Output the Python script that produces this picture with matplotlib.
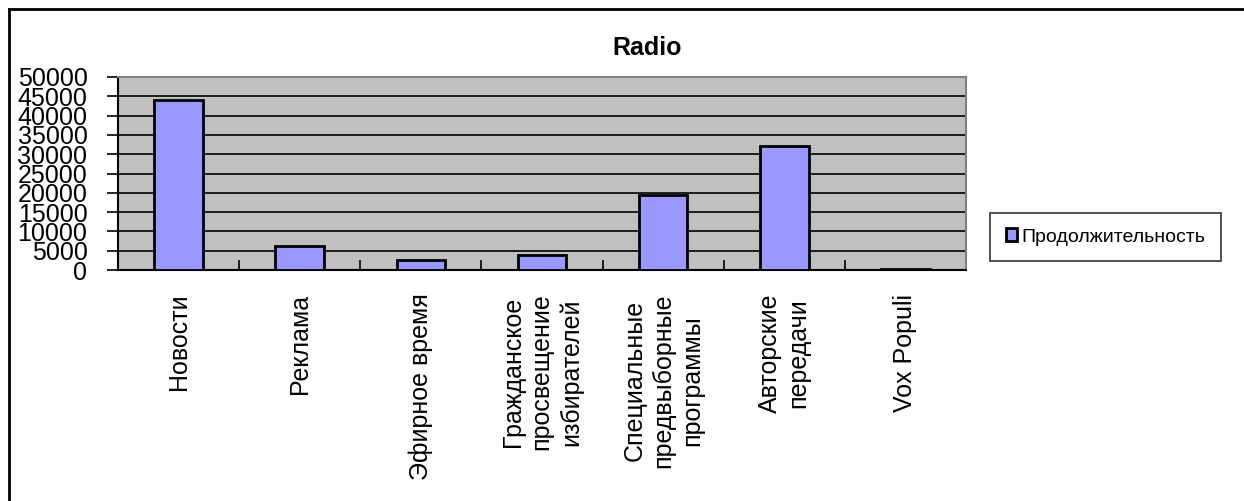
import matplotlib
matplotlib.use("Agg")
import matplotlib.pyplot as plt
from matplotlib.lines import Line2D
import numpy as np

plt.rcParams['font.family'] = ['Liberation Sans', 'DejaVu Sans']

categories = ["Новости", "Реклама", "Эфирное время",
              "Гражданское\nпросвещение\nизбирателей",
              "Специальные\nпредвыборные\nпрограммы",
              "Авторские\nпередачи", "Vox Populi"]
values = [44000, 6200, 2600, 4000, 19500, 32200, 300]
series_name = "Продолжительность"
title = "Radio"
yticks = list(range(0, 50001, 5000))

W, H = 1244, 501
fig = plt.figure(figsize=(W / 100, H / 100), dpi=100)
ax = fig.add_axes([118 / W, (H - 270) / H, 848 / W, 193 / H])
ax.set_facecolor('#C0C0C0')

x = np.arange(len(categories))
ax.bar(x, values, width=0.40, color='#9999FF', edgecolor='black',
       linewidth=2, label=series_name, zorder=3)

ax.set_xlim(-0.5, len(categories) - 0.5)
ax.set_ylim(0, 50000)
ax.set_yticks(yticks)
ax.set_yticklabels([str(v) for v in yticks], fontsize=18)
ax.yaxis.grid(True, color='black', linewidth=1.2, zorder=1)
ax.set_axisbelow(True)
ax.tick_params(axis='y', direction='out', length=8, width=1.2, pad=14)

ax.set_xticks(x)
ax.set_xticklabels(categories, rotation=90, fontsize=18, va='top',
                   ha='center', multialignment='center', linespacing=1.25)
ax.tick_params(axis='x', which='major', length=0, pad=17)
ax.set_xticks(np.arange(len(categories) + 1) - 0.5, minor=True)
ax.tick_params(axis='x', which='minor', direction='in', length=7, width=1.2)

for s in ['top', 'right']:
    ax.spines[s].set_color('#808080')
    ax.spines[s].set_linewidth(1.5)
for s in ['left', 'bottom']:
    ax.spines[s].set_color('black')
    ax.spines[s].set_linewidth(1.5)

fig.text(647 / W, 1 - 48 / H, title, fontsize=18, fontweight='bold',
         ha='center', va='center')

leg = ax.legend(loc='center', bbox_to_anchor=(1105.5 / W, 1 - 237 / H),
                bbox_transform=fig.transFigure, fontsize=14, frameon=True,
                fancybox=False, edgecolor='black', handlelength=0.6,
                handleheight=0.6, handletextpad=0.2, borderpad=0.8,
                borderaxespad=0)
leg.get_frame().set_linewidth(1.2)

fig.add_artist(Line2D([9 / W, 1], [1 - 9 / H, 1 - 9 / H], color='black',
                      linewidth=2, transform=fig.transFigure))
fig.add_artist(Line2D([9 / W, 9 / W], [0, 1 - 9 / H], color='black',
                      linewidth=2, transform=fig.transFigure))

fig.savefig("out.png", dpi=100)
